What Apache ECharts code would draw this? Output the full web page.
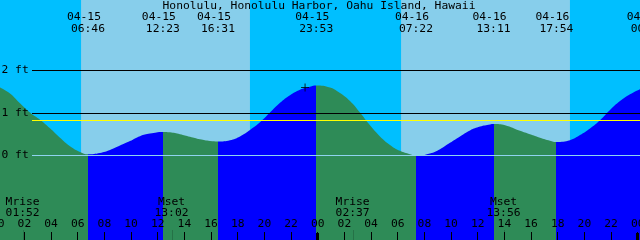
<!DOCTYPE html>
<html><head><meta charset="utf-8">
<script src="https://cdn.jsdelivr.net/npm/echarts@6/dist/echarts.min.js"></script>
<style>html,body{margin:0;padding:0;background:#00bfff}#c{width:640px;height:240px}</style>
</head><body><div id="c"></div>
<script>
// ---------- data ----------
const chartTitle = 'Honolulu, Honolulu Harbor, Oahu Island, Hawaii';
// hours since 04-15 00:00
const tideHours = [0.17, 0.92, 1.67, 2.42, 3.17, 3.92, 4.67, 5.42, 6.17, 6.767, 7.67, 8.42, 9.17, 9.92, 10.67, 11.42, 12.383, 12.92, 13.67, 14.42, 15.17, 15.92, 16.517, 17.42, 18.17, 18.92, 19.67, 20.42, 21.17, 21.92, 22.67, 23.42, 23.883, 24.92, 25.67, 26.42, 27.17, 27.92, 28.67, 29.42, 30.17, 30.92, 31.367, 32.42, 33.17, 33.92, 34.67, 35.42, 36.17, 36.92, 37.183, 38.05, 39.17, 39.92, 40.67, 41.42, 41.9, 42.92, 43.67, 44.42, 45.17, 45.92, 46.67, 47.42, 48.17];
const tideFeet = [1.60, 1.46, 1.23, 1.01, 0.84, 0.64, 0.42, 0.22, 0.085, 0.03, 0.06, 0.13, 0.235, 0.34, 0.455, 0.515, 0.555, 0.545, 0.50, 0.44, 0.38, 0.34, 0.33, 0.36, 0.45, 0.60, 0.78, 1.01, 1.24, 1.42, 1.55, 1.62, 1.65, 1.60, 1.47, 1.28, 1.01, 0.71, 0.45, 0.25, 0.11, 0.03, 0.0, 0.05, 0.15, 0.30, 0.45, 0.59, 0.68, 0.73, 0.74, 0.71, 0.58, 0.50, 0.42, 0.35, 0.32, 0.36, 0.48, 0.635, 0.83, 1.07, 1.28, 1.44, 1.56];
const eventDates = ['04-15', '04-15', '04-15', '04-15', '04-16', '04-16', '04-16', '04-17'];
const eventTimes = ['06:46', '12:23', '16:31', '23:53', '07:22', '13:11', '17:54', '00:45'];
const eventKinds = ['Low', 'High', 'Low', 'High', 'Low', 'High', 'Low', 'High'];
const moonNames = ['Mrise', 'Mset', 'Mrise', 'Mset'];
const moonDates = ['04-15', '04-15', '04-16', '04-16'];
const moonTimes = ['01:52', '13:02', '02:37', '13:56'];
const sunriseDates = ['04-15', '04-16'];
const sunriseTimes = ['06:15', '06:15'];
const sunsetDates = ['04-15', '04-16'];
const sunsetTimes = ['18:55', '18:55'];
const levelValues = [0, 1, 2];
const levelLabels = ['0 ft', '1 ft', '2 ft'];
const meanLevel = 0.82;
const hourTicks = [2, 4, 6, 8, 10, 12, 14, 16, 18, 20, 22, 24, 26, 28, 30, 32, 34, 36, 38, 40, 42, 44, 46, 48];
const midnightTicks = [24, 48];
const nowMark = [23.05, 1.60];

// ---------- layout / style ----------
const T_START = 0.17, T_END = 48.17;
const Y_MIN = -1.988, Y_MAX = 3.659;
const W = 640;
const LINE_START_PX = 32;
const NIGHT = '#00bfff', DAY = '#87ceeb', FLOOD = '#0000ff', EBB = '#2e8b57';
const FONT_FAMILY = '"DejaVu Sans Mono", "Liberation Mono", monospace';
const FONT_SIZE = 11.3;
const FONT = FONT_SIZE + 'px ' + FONT_FAMILY;

function toHours(d, t) {
  const day = parseInt(d.slice(3), 10) - 15;
  const [hh, mm] = t.split(':').map(Number);
  return day * 24 + hh + mm / 60;
}
const pad = n => (n < 10 ? '0' : '') + n;

const eventHours = eventDates.map((d, i) => toHours(d, eventTimes[i]));
const moonHours = moonDates.map((d, i) => toHours(d, moonTimes[i]));
const riseHours = sunriseDates.map((d, i) => toHours(d, sunriseTimes[i]));
const setHours = sunsetDates.map((d, i) => toHours(d, sunsetTimes[i]));

// flood/ebb pieces: segment ending at a High is rising (flood), ending at a Low is falling (ebb)
const pieces = [];
for (let i = 0; i < eventHours.length; i++) {
  const p = { color: eventKinds[i] === 'High' ? FLOOD : EBB, lt: eventHours[i] };
  if (i > 0) p.gte = eventHours[i - 1];
  pieces.push(p);
}

const lineStartT = T_START + LINE_START_PX * (T_END - T_START) / W;

const chart = echarts.init(document.getElementById('c'), null, { renderer: 'canvas' });
chart.setOption({
  animation: false,
  backgroundColor: NIGHT,
  grid: { left: 0, right: 0, top: 0, bottom: 0, containLabel: false, outerBoundsMode: 'none' },
  xAxis: [{
    type: 'value', min: T_START, max: T_END, position: 'bottom', z: 20,
    axisLine: { show: false, onZero: false }, splitLine: { show: false },
    axisTick: { show: true, inside: true, length: 8, customValues: hourTicks, lineStyle: { color: '#000', width: 1 } },
    axisLabel: { show: true, inside: true, margin: 10, customValues: hourTicks, hideOverlap: false,
      formatter: v => pad(Math.round(v) % 24),
      fontFamily: FONT_FAMILY, fontSize: FONT_SIZE, color: '#000' }
  }, {
    type: 'value', min: T_START, max: T_END, position: 'bottom', offset: 0, z: 21,
    axisLine: { show: false, onZero: false }, splitLine: { show: false }, axisLabel: { show: false },
    axisTick: { show: true, inside: true, length: 7, customValues: midnightTicks, lineStyle: { color: '#000', width: 3 } }
  }],
  yAxis: { type: 'value', min: Y_MIN, max: Y_MAX, show: false, splitLine: { show: false } },
  visualMap: {
    type: 'piecewise', show: false, dimension: 0, seriesIndex: 2, pieces: pieces, outOfRange: { color: FLOOD }
  },
  series: [
    { type: 'line', name: 'daylight', data: [], z: 1, silent: true,
      markArea: { silent: true, itemStyle: { color: DAY, opacity: 1 },
        data: riseHours.map((r, i) => [{ xAxis: r }, { xAxis: setHours[i] }]) } },
    { type: 'line', name: 'levels', data: [], z: 2, silent: true,
      markLine: { silent: true, symbol: ['none', 'none'], label: { show: false },
        lineStyle: { color: '#000', width: 1, type: 'solid' },
        data: levelValues.filter(v => v !== 0).map(v => [{ coord: [lineStartT, v] }, { coord: [T_END, v] }]) } },
    { type: 'line', name: 'tide', z: 3, silent: true,
      data: tideHours.map((h, i) => [h, tideFeet[i]]),
      smooth: 0.45, showSymbol: false, lineStyle: { width: 0, opacity: 0 },
      areaStyle: { opacity: 1, origin: 'start' } },
    { type: 'line', name: 'datum', data: [], z: 4, silent: true,
      markLine: { silent: true, symbol: ['none', 'none'], label: { show: false },
        data: [
          [{ coord: [lineStartT, 0], lineStyle: { color: '#8fd3f0', width: 1, type: 'solid' } }, { coord: [T_END, 0] }],
          [{ coord: [lineStartT, meanLevel], lineStyle: { color: '#ffff00', width: 1, type: 'solid' } }, { coord: [T_END, meanLevel] }]
        ] } },
    { type: 'scatter', name: 'now', z: 5, silent: true, data: [nowMark],
      symbol: 'path://M0,4L8,4M4,0L4,8', symbolSize: 8,
      itemStyle: { color: 'none', borderColor: '#000', borderWidth: 1 } }
  ]
});

// ---------- text & small marks ----------
const px = t => chart.convertToPixel({ xAxisIndex: 0 }, t);
const py = v => chart.convertToPixel({ yAxisIndex: 0 }, v);
const txt = (text, x, y, align) => ({ type: 'text', x: x, y: y, z: 100, silent: true,
  style: { text: text, font: FONT, fill: '#000', align: align || 'center', verticalAlign: 'middle' } });
const g = [];
g.push(txt(chartTitle, W / 2 - 1, 6));
eventHours.forEach((h, i) => {
  const x = px(h);
  g.push(txt(eventDates[i], x - 4, 17.5));
  g.push(txt(eventTimes[i], x, 29.5));
});
moonHours.forEach((h, i) => {
  const x = px(h);
  g.push({ type: 'line', z: 50, silent: true, shape: { x1: Math.round(x) + 0.5, y1: 230, x2: Math.round(x) + 0.5, y2: 240 },
    style: { stroke: 'rgba(0,0,0,0.18)', lineWidth: 1 } });
  g.push(txt(moonNames[i], x, 202));
  g.push(txt(moonTimes[i], x, 213.5));
});
// first midnight label sits just left of the plotted range
g.push(txt(pad(0), px(0), 224.5));
levelValues.forEach((v, i) => g.push(txt(levelLabels[i], 1.5, py(v), 'left')));
chart.setOption({ graphic: g });
</script></body></html>
